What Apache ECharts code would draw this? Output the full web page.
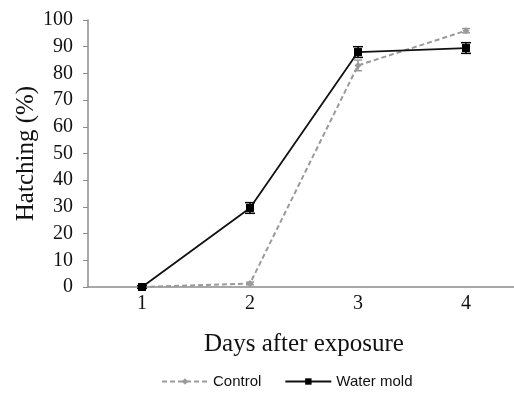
<!DOCTYPE html>
<html>
<head>
<meta charset="utf-8">
<script src="https://cdn.jsdelivr.net/npm/echarts@6/dist/echarts.min.js"></script>
<style>
  html, body { margin: 0; padding: 0; background: #fff; }
  #chart { width: 514px; height: 399px; }
</style>
</head>
<body>
<div id="chart"></div>
<script>
// data
const days = ['1', '2', '3', '4'];
const controlVals = [0, 1.3, 83, 96];
const controlErr = [0, 0.5, 2, 0.8];
const moldVals = [0, 29.6, 88, 89.5];
const moldErr = [0.5, 2, 2, 2];

const serif = 'Liberation Serif';

function errData(vals, errs) {
    return vals.map((v, i) => [i, v - errs[i], v + errs[i]]);
}

// error bars with caps
function errRender(color, capW) {
    return function (params, api) {
        const lo = api.coord([api.value(0), api.value(1)]);
        const hi = api.coord([api.value(0), api.value(2)]);
        const st = { stroke: color, lineWidth: 1.5 };
        return {
            type: 'group',
            children: [
                { type: 'line', shape: { x1: lo[0], y1: lo[1], x2: hi[0], y2: hi[1] }, style: st },
                { type: 'line', shape: { x1: lo[0] - capW, y1: lo[1], x2: lo[0] + capW, y2: lo[1] }, style: st },
                { type: 'line', shape: { x1: hi[0] - capW, y1: hi[1], x2: hi[0] + capW, y2: hi[1] }, style: st }
            ]
        };
    };
}

const chart = echarts.init(document.getElementById('chart'));
chart.setOption({
    animation: false,
    grid: { left: 88, top: 20, width: 432, height: 267, outerBoundsMode: 'none', containLabel: false },
    xAxis: {
        type: 'category',
        data: days,
        boundaryGap: true,
        name: 'Days after exposure',
        nameLocation: 'middle',
        nameGap: 45,
        nameTextStyle: { fontFamily: serif, fontSize: 25, color: '#111' },
        axisLine: { lineStyle: { color: '#8c8c8c', width: 1.5 } },
        axisTick: { alignWithLabel: true, length: 4, inside: false, lineStyle: { color: '#8c8c8c' } },
        axisLabel: { fontFamily: serif, fontSize: 20, color: '#111', margin: 7 }
    },
    yAxis: {
        type: 'value',
        min: 0, max: 100, interval: 10,
        name: 'Hatching (%)',
        nameLocation: 'middle',
        nameGap: 49,
        nameMoveOverlap: false,
        nameTextStyle: { fontFamily: serif, fontSize: 25, color: '#111' },
        axisLine: { show: true, lineStyle: { color: '#8c8c8c', width: 1.5 } },
        axisTick: { show: true, length: 5, lineStyle: { color: '#8c8c8c' } },
        axisLabel: { fontFamily: serif, fontSize: 20, color: '#111', margin: 15 },
        splitLine: { show: false }
    },
    legend: {
        top: 369,
        left: 156,
        itemWidth: 46,
        itemHeight: 8,
        itemGap: 23,
        textStyle: { fontFamily: 'Liberation Sans', fontSize: 15, color: '#111' },
        data: ['Control', 'Water mold']
    },
    series: [
        {
            name: 'Control',
            type: 'line',
            data: controlVals,
            symbol: 'diamond',
            symbolSize: 7,
            itemStyle: { color: '#9a9a9a' },
            lineStyle: { color: '#9a9a9a', width: 2, type: [5, 3] },
            z: 3
        },
        {
            name: 'Water mold',
            type: 'line',
            data: moldVals,
            symbol: 'rect',
            symbolSize: 8,
            itemStyle: { color: '#000' },
            lineStyle: { color: '#111', width: 1.8 },
            z: 4
        },
        {
            type: 'custom',
            renderItem: errRender('#9a9a9a', 4),
            data: errData(controlVals, controlErr),
            encode: { x: 0, y: [1, 2] },
            z: 3
        },
        {
            type: 'custom',
            renderItem: errRender('#000', 5),
            data: errData(moldVals, moldErr),
            encode: { x: 0, y: [1, 2] },
            z: 4
        }
    ]
});
</script>
</body>
</html>
